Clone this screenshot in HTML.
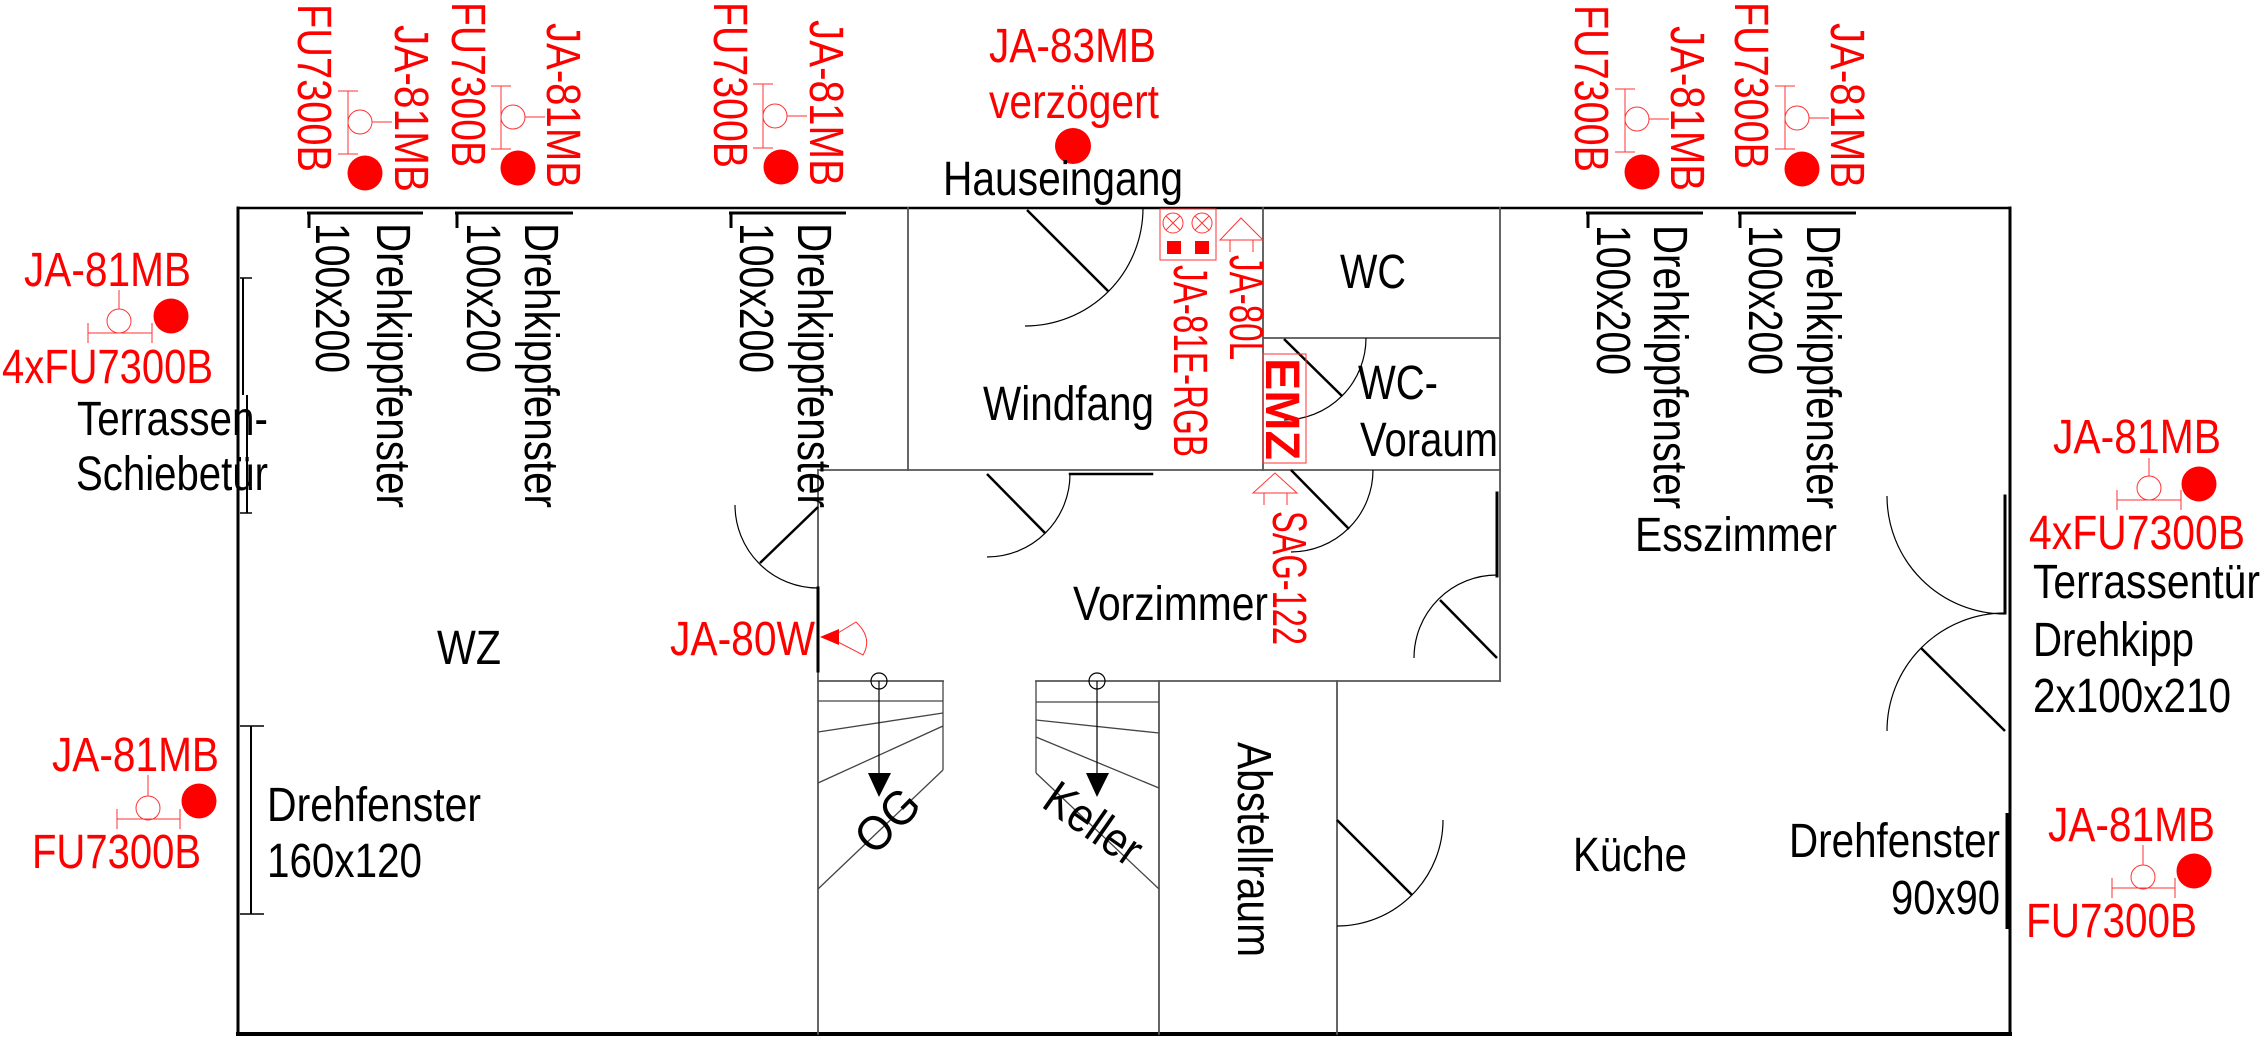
<!DOCTYPE html>
<html><head><meta charset="utf-8">
<style>
html,body{margin:0;padding:0;background:#fff;}
svg{display:block;}
text{font-family:"Liberation Sans Narrow","Liberation Sans","Arial Narrow",Arial,sans-serif;font-size:48px;}
.r{fill:#f00;}
.k{fill:#000;}
</style></head><body>
<svg width="2261" height="1037" viewBox="0 0 2261 1037" xmlns="http://www.w3.org/2000/svg">
<rect width="2261" height="1037" fill="#fff"/>

<!-- ===== walls ===== -->
<g fill="none" stroke-linecap="square">
  <line x1="238" y1="208" x2="2010" y2="208" stroke="#000" stroke-width="2.5"/>
  <line x1="238" y1="208" x2="238" y2="1034" stroke="#000" stroke-width="3"/>
  <line x1="2010" y1="208" x2="2010" y2="1034" stroke="#000" stroke-width="3"/>
  <line x1="238" y1="1034" x2="2010" y2="1034" stroke="#000" stroke-width="4"/>
  <g stroke="#555" stroke-width="1.8">
    <line x1="908" y1="208" x2="908" y2="470"/>
    <line x1="1263" y1="208" x2="1263" y2="470"/>
    <line x1="1500" y1="208" x2="1500" y2="681"/>
    <line x1="1263" y1="338" x2="1500" y2="338"/>
    <line x1="818" y1="470" x2="1500" y2="470"/>
    <line x1="818" y1="470" x2="818" y2="1034"/>
    <line x1="818" y1="681" x2="943" y2="681"/>
    <line x1="1036" y1="681" x2="1500" y2="681"/>
    <line x1="1159" y1="681" x2="1159" y2="1034"/>
    <line x1="1337" y1="681" x2="1337" y2="1034"/>
  </g>
  <line x1="818" y1="588" x2="818" y2="671" stroke="#000" stroke-width="3"/>
  <line x1="1070" y1="474" x2="1152" y2="474" stroke="#000" stroke-width="2.5"/>
  <line x1="1497" y1="493" x2="1497" y2="576" stroke="#000" stroke-width="3"/>
  <line x1="2005" y1="496" x2="2005" y2="613" stroke="#000" stroke-width="3"/>
</g>

<!-- ===== windows ===== -->
<g stroke="#000" stroke-width="3" fill="none">
  <line x1="307" y1="213" x2="423" y2="213"/><line x1="309" y1="213" x2="309" y2="228"/>
  <line x1="455" y1="213" x2="573" y2="213"/><line x1="457" y1="213" x2="457" y2="228"/>
  <line x1="729" y1="213" x2="846" y2="213"/><line x1="731" y1="213" x2="731" y2="228"/>
  <line x1="1586" y1="213" x2="1703" y2="213"/><line x1="1588" y1="213" x2="1588" y2="228"/>
  <line x1="1738" y1="213" x2="1856" y2="213"/><line x1="1740" y1="213" x2="1740" y2="228"/>
  <line x1="2007" y1="813" x2="2007" y2="929"/>
</g>
<g stroke="#000" stroke-width="2" fill="none">
  <line x1="251" y1="726" x2="251" y2="914"/>
  <line x1="240" y1="726" x2="264" y2="726" stroke-width="1.5"/>
  <line x1="240" y1="914" x2="264" y2="914" stroke-width="1.5"/>
  <line x1="243" y1="278" x2="243" y2="395"/>
  <line x1="247" y1="395" x2="247" y2="513"/>
  <line x1="240" y1="278" x2="252" y2="278" stroke-width="1.5"/>
  <line x1="240" y1="513" x2="252" y2="513" stroke-width="1.5"/>
</g>

<!-- ===== doors ===== -->
<g fill="none" stroke="#000">
  <path d="M1143,208 A118,118 0 0 1 1025,326" stroke-width="1.2"/>
  <line x1="1027" y1="210" x2="1108" y2="291" stroke-width="2.5"/>
  <path d="M1366,338 A82,82 0 0 1 1284,420" stroke-width="1.2"/>
  <line x1="1284" y1="339" x2="1342" y2="396" stroke-width="2.5"/>
  <path d="M1070,474 A83,83 0 0 1 987,557" stroke-width="1.2"/>
  <line x1="987" y1="474" x2="1045" y2="533" stroke-width="2.5"/>
  <path d="M1373,470 A82,82 0 0 1 1291,552" stroke-width="1.2"/>
  <line x1="1291" y1="470" x2="1349" y2="529" stroke-width="2.5"/>
  <path d="M1497,575 A83,83 0 0 0 1414,658" stroke-width="1.2"/>
  <line x1="1440" y1="600" x2="1497" y2="658" stroke-width="2.5"/>
  <path d="M735,505 A83,83 0 0 0 818,588" stroke-width="1.2"/>
  <line x1="818" y1="507" x2="760" y2="563" stroke-width="2.5"/>
  <path d="M1443,820 A106,106 0 0 1 1337,926" stroke-width="1.2"/>
  <line x1="1337" y1="820" x2="1412" y2="895" stroke-width="2.5"/>
  <path d="M1887,496 A118,118 0 0 0 2005,614" stroke-width="1.2"/>
  <path d="M2005,613 A118,118 0 0 0 1887,731" stroke-width="1.2"/>
  <line x1="1921" y1="648" x2="2005" y2="731" stroke-width="2.5"/>
</g>

<!-- ===== stairs ===== -->
<g fill="none" stroke="#444" stroke-width="1.3">
  <line x1="818" y1="701" x2="943" y2="701"/>
  <line x1="818" y1="732" x2="943" y2="713"/>
  <line x1="818" y1="783" x2="943" y2="726"/>
  <line x1="943" y1="681" x2="943" y2="770"/>
  <line x1="943" y1="770" x2="818" y2="889"/>
  <line x1="1036" y1="702" x2="1159" y2="702"/>
  <line x1="1036" y1="720" x2="1159" y2="733"/>
  <line x1="1036" y1="737" x2="1159" y2="788"/>
  <line x1="1036" y1="681" x2="1036" y2="773"/>
  <line x1="1036" y1="773" x2="1159" y2="889"/>
</g>
<g fill="none" stroke="#000" stroke-width="1.2">
  <circle cx="879" cy="681" r="8"/>
  <line x1="879" y1="681" x2="879" y2="775"/>
  <circle cx="1097" cy="681" r="8"/>
  <line x1="1097" y1="681" x2="1097" y2="775"/>
</g>
<polygon points="868,773 891,773 879,797" fill="#000"/>
<polygon points="1086,773 1109,773 1097,797" fill="#000"/>

<!-- ===== red symbols ===== -->
<g stroke="#f33" stroke-width="1" fill="none">
  <line x1="348" y1="91" x2="348" y2="154"/><line x1="338" y1="91" x2="358" y2="91"/><line x1="338" y1="154" x2="358" y2="154"/>
  <circle cx="360" cy="122" r="12"/><line x1="372" y1="122" x2="392" y2="122"/>
  <line x1="501" y1="86" x2="501" y2="149"/><line x1="491" y1="86" x2="511" y2="86"/><line x1="491" y1="149" x2="511" y2="149"/>
  <circle cx="513" cy="117" r="12"/><line x1="525" y1="117" x2="545" y2="117"/>
  <line x1="763" y1="84" x2="763" y2="148"/><line x1="753" y1="84" x2="773" y2="84"/><line x1="753" y1="148" x2="773" y2="148"/>
  <circle cx="775" cy="116" r="12"/><line x1="787" y1="116" x2="807" y2="116"/>
  <line x1="1625" y1="89" x2="1625" y2="152"/><line x1="1615" y1="89" x2="1635" y2="89"/><line x1="1615" y1="152" x2="1635" y2="152"/>
  <circle cx="1637" cy="119" r="12"/><line x1="1649" y1="119" x2="1669" y2="119"/>
  <line x1="1785" y1="86" x2="1785" y2="149"/><line x1="1775" y1="86" x2="1795" y2="86"/><line x1="1775" y1="149" x2="1795" y2="149"/>
  <circle cx="1797" cy="118" r="12"/><line x1="1809" y1="118" x2="1829" y2="118"/>

  <line x1="119" y1="290" x2="119" y2="309"/><circle cx="119" cy="321" r="12"/>
  <line x1="88" y1="333" x2="152" y2="333"/><line x1="88" y1="323" x2="88" y2="343"/><line x1="152" y1="323" x2="152" y2="343"/>
  <line x1="148" y1="775" x2="148" y2="796"/><circle cx="148" cy="808" r="12"/>
  <line x1="117" y1="819" x2="180" y2="819"/><line x1="117" y1="809" x2="117" y2="829"/><line x1="180" y1="809" x2="180" y2="829"/>
  <line x1="2149" y1="458" x2="2149" y2="476"/><circle cx="2149" cy="488" r="12"/>
  <line x1="2117" y1="500" x2="2181" y2="500"/><line x1="2117" y1="490" x2="2117" y2="510"/><line x1="2181" y1="490" x2="2181" y2="510"/>
  <line x1="2143" y1="845" x2="2143" y2="865"/><circle cx="2143" cy="877" r="12"/>
  <line x1="2112" y1="888" x2="2175" y2="888"/><line x1="2112" y1="878" x2="2112" y2="898"/><line x1="2175" y1="878" x2="2175" y2="898"/>

  <rect x="1160" y="209" width="56" height="51"/>
  <circle cx="1173" cy="223" r="10"/><line x1="1166" y1="216" x2="1180" y2="230"/><line x1="1180" y1="216" x2="1166" y2="230"/>
  <circle cx="1202" cy="223" r="10"/><line x1="1195" y1="216" x2="1209" y2="230"/><line x1="1209" y1="216" x2="1195" y2="230"/>
  <path d="M1220,240 L1241,218 L1263,240 Z"/>
  <line x1="1230" y1="240" x2="1230" y2="252"/><line x1="1253" y1="240" x2="1253" y2="252"/>
  <path d="M1253,493 L1275,473 L1297,493 Z"/>
  <line x1="1264" y1="493" x2="1264" y2="505"/><line x1="1287" y1="493" x2="1287" y2="505"/>
  <rect x="1263" y="354" width="43" height="109"/>
  <path d="M838,633 L856,622 Q873,638 863,655 L838,642"/>
</g>
<g fill="#f00">
  <rect x="1167" y="241" width="14" height="13"/>
  <rect x="1195" y="241" width="14" height="13"/>
  <polygon points="820,637 839,629 839,645"/>
  <circle cx="365" cy="173" r="17.5"/>
  <circle cx="518" cy="168" r="17.5"/>
  <circle cx="781" cy="167" r="17.5"/>
  <circle cx="1642" cy="172" r="17.5"/>
  <circle cx="1802" cy="169" r="17.5"/>
  <circle cx="1073" cy="146" r="18"/>
  <circle cx="171" cy="316" r="17.5"/>
  <circle cx="199" cy="801" r="17.5"/>
  <circle cx="2199" cy="484" r="17.5"/>
  <circle cx="2194" cy="871" r="17.5"/>
</g>

<!-- ===== red text ===== -->
<g class="r">
  <text x="989" y="62" textLength="167" lengthAdjust="spacingAndGlyphs">JA-83MB</text>
  <text x="989" y="118" textLength="170" lengthAdjust="spacingAndGlyphs">verzögert</text>
  <text x="24" y="286" textLength="167" lengthAdjust="spacingAndGlyphs">JA-81MB</text>
  <text x="2" y="383" textLength="211" lengthAdjust="spacingAndGlyphs">4xFU7300B</text>
  <text x="52" y="771" textLength="167" lengthAdjust="spacingAndGlyphs">JA-81MB</text>
  <text x="32" y="868" textLength="169" lengthAdjust="spacingAndGlyphs">FU7300B</text>
  <text x="670" y="655" textLength="145" lengthAdjust="spacingAndGlyphs">JA-80W</text>
  <text x="2053" y="453" textLength="168" lengthAdjust="spacingAndGlyphs">JA-81MB</text>
  <text x="2029" y="549" textLength="216" lengthAdjust="spacingAndGlyphs">4xFU7300B</text>
  <text x="2048" y="841" textLength="167" lengthAdjust="spacingAndGlyphs">JA-81MB</text>
  <text x="2026" y="937" textLength="171" lengthAdjust="spacingAndGlyphs">FU7300B</text>

  <text transform="translate(298,4) rotate(90)" textLength="168" lengthAdjust="spacingAndGlyphs">FU7300B</text>
  <text transform="translate(395,25) rotate(90)" textLength="167" lengthAdjust="spacingAndGlyphs">JA-81MB</text>
  <text transform="translate(452,2) rotate(90)" textLength="165" lengthAdjust="spacingAndGlyphs">FU7300B</text>
  <text transform="translate(547,23) rotate(90)" textLength="165" lengthAdjust="spacingAndGlyphs">JA-81MB</text>
  <text transform="translate(714,2) rotate(90)" textLength="166" lengthAdjust="spacingAndGlyphs">FU7300B</text>
  <text transform="translate(810,20) rotate(90)" textLength="166" lengthAdjust="spacingAndGlyphs">JA-81MB</text>
  <text transform="translate(1575,5) rotate(90)" textLength="167" lengthAdjust="spacingAndGlyphs">FU7300B</text>
  <text transform="translate(1671,26) rotate(90)" textLength="165" lengthAdjust="spacingAndGlyphs">JA-81MB</text>
  <text transform="translate(1735,2) rotate(90)" textLength="167" lengthAdjust="spacingAndGlyphs">FU7300B</text>
  <text transform="translate(1831,23) rotate(90)" textLength="165" lengthAdjust="spacingAndGlyphs">JA-81MB</text>

  <text transform="translate(1174,265) rotate(90)" font-size="44" textLength="192" lengthAdjust="spacingAndGlyphs">JA-81E-RGB</text>
  <text transform="translate(1230,255) rotate(90)" font-size="44" textLength="105" lengthAdjust="spacingAndGlyphs">JA-80L</text>
  <text transform="translate(1266,358) rotate(90)" font-size="53" font-weight="bold" textLength="102" lengthAdjust="spacingAndGlyphs">EMZ</text>
  <text transform="translate(1273,511) rotate(90)" font-size="44" textLength="134" lengthAdjust="spacingAndGlyphs">SAG-122</text>
</g>

<!-- ===== black text ===== -->
<g class="k">
  <text x="943" y="195" textLength="240" lengthAdjust="spacingAndGlyphs">Hauseingang</text>
  <text x="77" y="435" textLength="191" lengthAdjust="spacingAndGlyphs">Terrassen-</text>
  <text x="76" y="490" textLength="192" lengthAdjust="spacingAndGlyphs">Schiebetür</text>
  <text x="437" y="664" textLength="64" lengthAdjust="spacingAndGlyphs">WZ</text>
  <text x="267" y="821" textLength="214" lengthAdjust="spacingAndGlyphs">Drehfenster</text>
  <text x="267" y="877" textLength="155" lengthAdjust="spacingAndGlyphs">160x120</text>
  <text x="983" y="420" textLength="171" lengthAdjust="spacingAndGlyphs">Windfang</text>
  <text x="1340" y="288" textLength="66" lengthAdjust="spacingAndGlyphs">WC</text>
  <text x="1358" y="399" textLength="80" lengthAdjust="spacingAndGlyphs">WC-</text>
  <text x="1360" y="456" textLength="138" lengthAdjust="spacingAndGlyphs">Voraum</text>
  <text x="1073" y="620" textLength="195" lengthAdjust="spacingAndGlyphs">Vorzimmer</text>
  <text x="1635" y="551" textLength="202" lengthAdjust="spacingAndGlyphs">Esszimmer</text>
  <text x="2033" y="598" textLength="227" lengthAdjust="spacingAndGlyphs">Terrassentür</text>
  <text x="2033" y="656" textLength="161" lengthAdjust="spacingAndGlyphs">Drehkipp</text>
  <text x="2033" y="712" textLength="198" lengthAdjust="spacingAndGlyphs">2x100x210</text>
  <text x="1573" y="871" textLength="114" lengthAdjust="spacingAndGlyphs">Küche</text>
  <text x="1789" y="857" textLength="211" lengthAdjust="spacingAndGlyphs">Drehfenster</text>
  <text x="1891" y="914" textLength="109" lengthAdjust="spacingAndGlyphs">90x90</text>

  <text transform="translate(316,223) rotate(90)" textLength="150" lengthAdjust="spacingAndGlyphs">100x200</text>
  <text transform="translate(377,223) rotate(90)" textLength="285" lengthAdjust="spacingAndGlyphs">Drehkippfenster</text>
  <text transform="translate(467,223) rotate(90)" textLength="150" lengthAdjust="spacingAndGlyphs">100x200</text>
  <text transform="translate(525,223) rotate(90)" textLength="285" lengthAdjust="spacingAndGlyphs">Drehkippfenster</text>
  <text transform="translate(740,223) rotate(90)" textLength="150" lengthAdjust="spacingAndGlyphs">100x200</text>
  <text transform="translate(798,223) rotate(90)" textLength="285" lengthAdjust="spacingAndGlyphs">Drehkippfenster</text>
  <text transform="translate(1597,225) rotate(90)" textLength="150" lengthAdjust="spacingAndGlyphs">100x200</text>
  <text transform="translate(1654,225) rotate(90)" textLength="284" lengthAdjust="spacingAndGlyphs">Drehkippfenster</text>
  <text transform="translate(1749,225) rotate(90)" textLength="150" lengthAdjust="spacingAndGlyphs">100x200</text>
  <text transform="translate(1807,225) rotate(90)" textLength="284" lengthAdjust="spacingAndGlyphs">Drehkippfenster</text>

  <text transform="translate(1238,742) rotate(90)" textLength="215" lengthAdjust="spacingAndGlyphs">Abstellraum</text>

  <text transform="translate(887,820) rotate(-45)" x="0" y="17" font-size="50" text-anchor="middle" textLength="70" lengthAdjust="spacingAndGlyphs">OG</text>
  <text transform="translate(1094,823) rotate(35)" x="0" y="17" font-size="50" text-anchor="middle" textLength="108" lengthAdjust="spacingAndGlyphs">Keller</text>
</g>
</svg>
</body></html>
